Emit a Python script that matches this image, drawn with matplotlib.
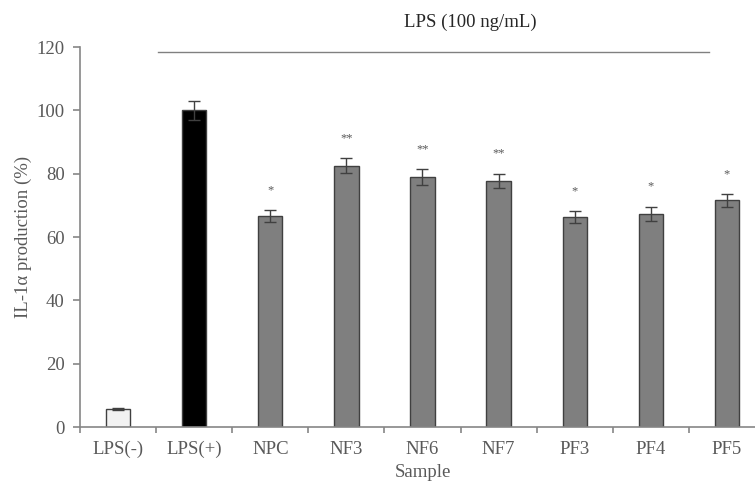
import numpy as np
import matplotlib.pyplot as plt

samples = ['LPS(-)', 'LPS(+)', 'NPC', 'NF3', 'NF6', 'NF7', 'PF3', 'PF4', 'PF5']
production = [5.7, 100.0, 66.7, 82.5, 79.0, 77.7, 66.3, 67.4, 71.6]
errors = [0.4, 3.0, 1.9, 2.3, 2.5, 2.3, 1.9, 2.2, 2.0]
stars = ['', '', '*', '**', '**', '**', '*', '*', '*']
bar_colors = ['#f2f2f2', '#000000'] + ['#7f7f7f'] * 7

plt.rcParams['font.family'] = ['Liberation Serif', 'DejaVu Serif']
txt = '#595959'
axc = '#868686'

fig = plt.figure(figsize=(7.55, 4.84), dpi=100)
ax = fig.add_axes([80 / 755, 57 / 484, 685 / 755, 380 / 484])

x = np.arange(len(samples))
ax.bar(x, production, width=0.32, color=bar_colors, edgecolor='#404040', linewidth=1.0, zorder=2)
ax.errorbar(x, production, yerr=errors, fmt='none', ecolor='#404040', elinewidth=1.0,
            capsize=4, capthick=1.0, zorder=3)

# significance marks
for xi, v, e, s in zip(x, production, errors, stars):
    if s:
        ax.annotate(s, (xi, v + e), xytext=(0, 10), textcoords='offset points',
                    ha='center', va='bottom', fontsize=9, color=txt)

ax.set_xlim(-0.5, 8.5)
ax.set_ylim(0, 120)
ax.set_yticks(range(0, 121, 20))
ax.set_xticks(x)
ax.set_xticklabels(samples)
ax.set_xticks(np.arange(-0.5, 9, 1), minor=True)
ax.tick_params(axis='x', which='major', length=0, pad=10, labelsize=13.5, labelcolor=txt)
ax.tick_params(axis='x', which='minor', length=4, direction='out', color=axc, width=1.2)
ax.tick_params(axis='y', length=5, direction='out', color=axc, width=1.2,
               labelsize=13.5, labelcolor=txt, pad=6)

for side in ['top', 'right']:
    ax.spines[side].set_visible(False)
for side in ['left', 'bottom']:
    ax.spines[side].set_color(axc)
    ax.spines[side].set_linewidth(1.2)

ax.set_ylabel('IL-1α production (%)', fontsize=13.5, color=txt, labelpad=3)
ax.set_xlabel('Sample', fontsize=13.5, color=txt, labelpad=4)

# LPS treatment line
ax.plot([0.52, 7.77], [118.4, 118.4], color='#808080', linewidth=1.0, clip_on=False)
fig.text(470 / 755, 1 - 22 / 484, 'LPS (100 ng/mL)', ha='center', va='center',
         fontsize=13.5, color='#262626')

fig.savefig('out.png', dpi=100)
